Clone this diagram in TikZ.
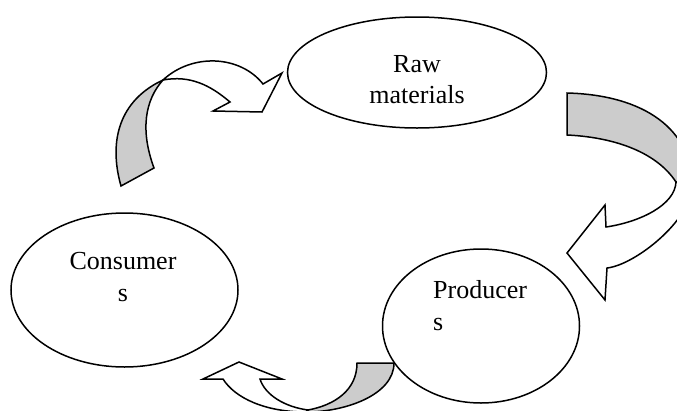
\documentclass[tikz,border=0pt]{standalone}
\usepackage{fontspec}
\setmainfont{Liberation Serif}
\usetikzlibrary{shapes.geometric}
\begin{document}
\begin{tikzpicture}[x=1pt,y=-1pt]
\tikzset{ellipse style/.style={shape=ellipse,draw=black,line width=1.5pt,inner sep=0pt,},
         label style/.style={font=\fontsize{26}{31}\selectfont,inner sep=0pt,anchor=base},
         back style/.style={draw=black,fill=black!20,line width=1.5pt},
         front style/.style={draw=black,fill=white,line width=1.5pt}}
\useasboundingbox (0,0) rectangle (677,410);

\node[ellipse style, minimum width=259pt, minimum height=111pt] at (417, 72.5)  (raw)  {};
\node[ellipse style, minimum width=227pt, minimum height=154pt] at (124.5, 290) (cons) {};
\node[ellipse style, minimum width=197pt, minimum height=154pt] at (481, 326)   (prod) {};

\node[label style] at (417, 72)   (raw1)  {Raw};
\node[label style] at (417, 103)  (raw2)  {materials};
\node[label style] at (123, 269)  (cons1) {Consumer};
\node[label style] at (123, 301)  (cons2) {s};
\node[label style, anchor=base west] at (433, 298) (prod1) {Producer};
\node[label style, anchor=base west] at (433, 330) (prod2) {s};

% consumers to raw materials
\draw[back style] (121,186) .. controls (108,140) and (120,100) .. (163,80)
      .. controls (145,100) and (140,130) .. (154,168) -- cycle;
\draw[front style] (163,80) .. controls (192,53) and (240,55) .. (263,84)
      -- (282,73) -- (262,112) -- (213,111) -- (230,102)
      .. controls (210,85) and (190,75) .. (163,80) -- cycle;

% raw materials to producers
\draw[back style] (567,93) .. controls (645,95) and (692,130) .. (692,185)
      -- (676,182) .. controls (655,150) and (610,137) .. (567,135) -- cycle;
\draw[front style] (676,182) -- (692,185) .. controls (692,220) and (635,265) .. (607,268)
      -- (605,300) -- (567,253) -- (605,205) -- (606,227)
      .. controls (640,222) and (675,205) .. (676,182) -- cycle;

% producers to consumers
\draw[back style] (357,363) -- (394,363) .. controls (394,395) and (345,412) .. (306,412)
      -- (308,410) .. controls (335,405) and (357,390) .. (357,363) -- cycle;
\draw[front style] (308,410) -- (306,412) .. controls (265,412) and (235,398) .. (223,379)
      -- (203,379) -- (239,362) -- (282,379) -- (260,379)
      .. controls (265,395) and (285,407) .. (308,410) -- cycle;
\end{tikzpicture}
\end{document}
